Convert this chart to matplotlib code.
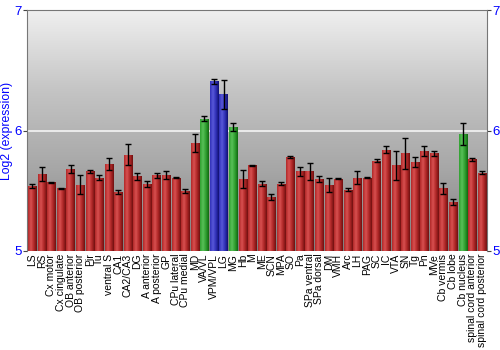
import numpy as np
import matplotlib
matplotlib.use('Agg')
import matplotlib.pyplot as plt
from matplotlib.colors import LinearSegmentedColormap

regions = ['LS', 'RS', 'Cx motor', 'Cx cingulate', 'OB anterior', 'OB posterior', 'Pir', 'Tu',
           'ventral S', 'CA1', 'CA2/CA3', 'DG', 'A anterior', 'A posterior', 'GP', 'CPu lateral',
           'CPu medial', 'MD', 'VA/VL', 'VPM/VPL', 'LG', 'MG', 'Hb', 'M', 'ME', 'SCN', 'MPA', 'SO',
           'Pa', 'SPa ventral', 'SPa dorsal', 'DM', 'VMH', 'Arc', 'LH', 'PAG', 'SC', 'IC', 'VTA',
           'SN', 'Tg', 'Pn', 'MVe', 'Cb vermis', 'Cb lobe', 'Cb nucleus', 'spinal cord anterior',
           'spinal cord posterior']
values = [5.54, 5.64, 5.57, 5.52, 5.68, 5.55, 5.66, 5.61,
          5.72, 5.49, 5.80, 5.62, 5.56, 5.63, 5.63, 5.61,
          5.50, 5.90, 6.10, 6.41, 6.30, 6.03, 5.60, 5.71, 5.56, 5.45, 5.56, 5.78,
          5.66, 5.66, 5.60, 5.55, 5.60, 5.51, 5.61, 5.61, 5.75, 5.84, 5.71,
          5.81, 5.74, 5.83, 5.81, 5.52, 5.41, 5.97, 5.76,
          5.65]
errors = [0.02, 0.06, 0.005, 0.005, 0.03, 0.08, 0.015, 0.02,
          0.05, 0.02, 0.09, 0.03, 0.025, 0.02, 0.03, 0.005,
          0.015, 0.075, 0.02, 0.02, 0.12, 0.03, 0.075, 0.005, 0.02, 0.025, 0.015, 0.01,
          0.04, 0.07, 0.025, 0.06, 0.005, 0.01, 0.055, 0.005, 0.015, 0.03, 0.12,
          0.13, 0.04, 0.04, 0.02, 0.045, 0.025, 0.09, 0.015,
          0.015]
# group: r = red, g = green, b = blue
groups = ['r'] * 18 + ['g', 'b', 'b', 'g'] + ['r'] * 23 + ['g', 'r', 'r']

colors = {'r': ('#d85050', '#b02828', '#701010'),
          'g': ('#58c058', '#30a030', '#106810'),
          'b': ('#5858d8', '#3030b8', '#101070')}

plt.rcParams['font.family'] = ['Liberation Sans', 'DejaVu Sans']

fig = plt.figure(figsize=(5, 3.5), dpi=100)
ax = fig.add_axes([0.054, 0.283, 0.92, 0.688])

# background gradient
bg = LinearSegmentedColormap.from_list('bg', ['#7e7e7e', '#a6a6a6', '#c4c4c4', '#f0f0f0'])
ax.imshow(np.linspace(0, 1, 256).reshape(-1, 1), cmap=bg, origin='lower', aspect='auto',
          extent=[0, 1, 0, 1], transform=ax.transAxes, zorder=0)
ax.axhline(6, color='#f4f4f4', lw=1.2, zorder=1)

x = np.arange(len(regions))
bars = ax.bar(x, np.array(values) - 5, bottom=5, width=0.86, color='none', zorder=2)
grad = np.linspace(0, 1, 64).reshape(1, -1)
for b, g in zip(bars, groups):
    cmap = LinearSegmentedColormap.from_list('c' + g, [colors[g][1], colors[g][0], colors[g][1], colors[g][2]])
    x0, y0 = b.get_x(), b.get_y()
    im = ax.imshow(grad, cmap=cmap, aspect='auto', extent=[x0, x0 + b.get_width(), y0, y0 + b.get_height()],
                   zorder=2)
    im.set_clip_path(b)
ax.errorbar(x, values, yerr=errors, fmt='none', ecolor='black', elinewidth=1, capsize=2.5, capthick=1, zorder=3)

ax.set_xlim(-0.55, len(regions) - 0.45)
ax.set_ylim(5, 7)
ax.set_yticks([5, 6, 7])
ax.set_xticks(x)
ax.set_xticklabels(regions, rotation=90, fontsize=7.5)
ax.tick_params(axis='x', length=0, pad=2)
ax.tick_params(axis='y', labelcolor='blue', labelsize=9.5, length=3, color='#444444',
               left=True, right=True, labelleft=True, labelright=True, pad=1)
for s in ['left', 'right', 'top']:
    ax.spines[s].set_color('#777777')
ax.spines['bottom'].set_visible(False)
ax.set_ylabel('Log2 (expression)', color='blue', fontsize=8.8, labelpad=1)

fig.savefig('out.png', dpi=100)
